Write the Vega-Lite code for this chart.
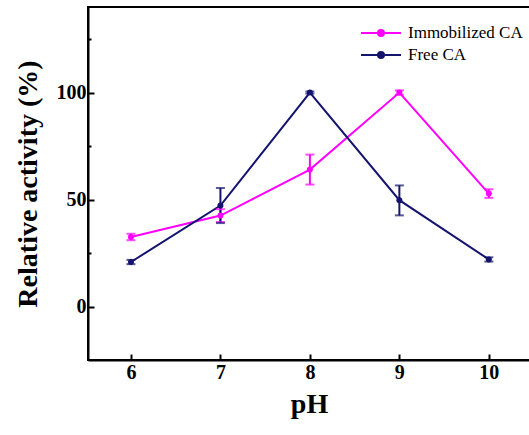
{
  "$schema": "https://vega.github.io/schema/vega-lite/v6.json",
  "width": 442,
  "height": 353,
  "autosize": "none",
  "padding": {"left": 88, "top": 7, "right": 0, "bottom": 75},
  "background": "white",
  "config": {
    "view": {"stroke": "black", "strokeWidth": 2},
    "font": "Liberation Serif"
  },
  "data": {
    "values": [
      {"pH": 6, "series": "Immobilized CA", "activity": 32.5, "lo": 31.0, "hi": 34.0},
      {"pH": 7, "series": "Immobilized CA", "activity": 42.5, "lo": 39.5, "hi": 45.5},
      {"pH": 8, "series": "Immobilized CA", "activity": 64.0, "lo": 57.0, "hi": 71.0},
      {"pH": 9, "series": "Immobilized CA", "activity": 100.0, "lo": 99.0, "hi": 101.0},
      {"pH": 10, "series": "Immobilized CA", "activity": 52.8, "lo": 50.8, "hi": 54.8},
      {"pH": 6, "series": "Free CA", "activity": 20.8, "lo": 19.8, "hi": 21.8},
      {"pH": 7, "series": "Free CA", "activity": 47.2, "lo": 39.0, "hi": 55.4},
      {"pH": 8, "series": "Free CA", "activity": 100.0, "lo": 99.5, "hi": 100.5},
      {"pH": 9, "series": "Free CA", "activity": 49.7, "lo": 42.6, "hi": 56.6},
      {"pH": 10, "series": "Free CA", "activity": 22.0, "lo": 21.0, "hi": 23.0}
    ]
  },
  "encoding": {
    "x": {
      "field": "pH", "type": "quantitative",
      "scale": {"domain": [5.52, 10.46], "nice": false, "zero": false},
      "axis": {
        "values": [6, 6.5, 7, 7.5, 8, 8.5, 9, 9.5, 10],
        "format": "d",
        "labelExpr": "datum.value % 1 == 0 ? datum.label : ''",
        "title": "pH",
        "titleFont": "Liberation Serif", "titleFontSize": 28, "titleFontWeight": "bold", "titleColor": "black",
        "titlePadding": 8,
        "labelFont": "Liberation Serif", "labelFontSize": 20, "labelFontWeight": "bold", "labelColor": "black",
        "labelPadding": 8,
        "domainColor": "black", "domainWidth": 2,
        "tickColor": "black", "tickWidth": 2,
        "tickSize": {"condition": {"test": "datum.value % 1 == 0", "value": -6}, "value": -3},
        "grid": false
      }
    },
    "color": {
      "field": "series", "type": "nominal",
      "scale": {"domain": ["Immobilized CA", "Free CA"], "range": ["#ff00ff", "#14146e"]},
      "legend": {
        "title": null,
        "orient": "none",
        "legendX": 272,
        "legendY": 15,
        "symbolType": "M-1,0H3M0.7,0A0.3,0.3 0 1,0 1.3,0A0.3,0.3 0 1,0 0.7,0",
        "symbolSize": 400,
        "symbolStrokeWidth": 2,
        "labelOffset": 26,
        "rowPadding": 3,
        "labelFont": "Liberation Serif", "labelFontSize": 17, "labelColor": "black",
        "encode": {
          "symbols": {
            "update": {
              "stroke": {"scale": "color", "field": "value"},
              "fill": {"scale": "color", "field": "value"},
              "opacity": {"value": 1}
            }
          }
        }
      }
    }
  },
  "layer": [
    {
      "mark": {"type": "line", "strokeWidth": 2},
      "encoding": {
        "y": {
          "field": "activity", "type": "quantitative",
          "scale": {"domain": [-25, 140], "nice": false, "zero": false},
          "axis": {
            "values": [0, 25, 50, 75, 100, 125],
            "labelExpr": "datum.value % 50 == 0 ? datum.label : ''",
            "title": "Relative activity (%)",
            "titleFont": "Liberation Serif", "titleFontSize": 28, "titleFontWeight": "bold", "titleColor": "black",
            "titlePadding": 14,
            "labelFont": "Liberation Serif", "labelFontSize": 20, "labelFontWeight": "bold", "labelColor": "black",
            "labelPadding": 8,
            "domainColor": "black", "domainWidth": 2,
            "tickColor": "black", "tickWidth": 2,
            "tickSize": {"condition": {"test": "datum.value % 50 == 0", "value": -6}, "value": -3},
            "grid": false
          }
        }
      }
    },
    {
      "mark": {"type": "rule", "strokeWidth": 2},
      "encoding": {
        "y": {"field": "lo", "type": "quantitative"},
        "y2": {"field": "hi"}
      }
    },
    {
      "mark": {"type": "tick", "orient": "horizontal", "size": 9, "thickness": 2},
      "encoding": {"y": {"field": "lo", "type": "quantitative"}}
    },
    {
      "mark": {"type": "tick", "orient": "horizontal", "size": 9, "thickness": 2},
      "encoding": {"y": {"field": "hi", "type": "quantitative"}}
    },
    {
      "mark": {"type": "point", "filled": true, "size": 36, "opacity": 1},
      "encoding": {
        "y": {"field": "activity", "type": "quantitative"}
      }
    }
  ]
}
